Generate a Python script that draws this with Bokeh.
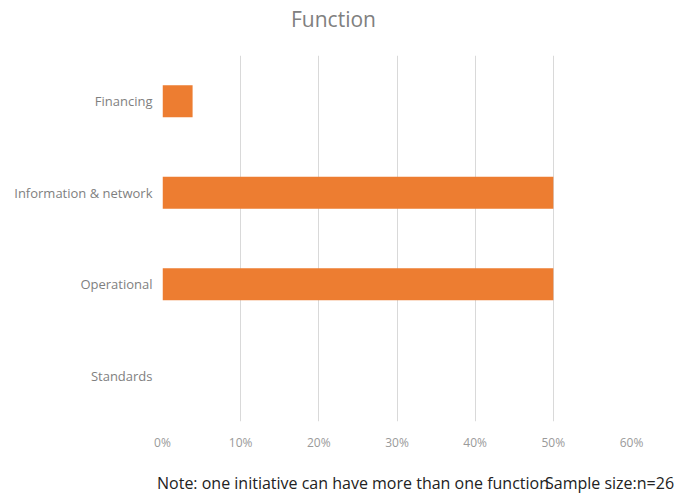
from bokeh.plotting import figure
from bokeh.models import NumeralTickFormatter, Range1d, FixedTicker, Div
from bokeh.layouts import column
from bokeh.embed import file_html
from bokeh.resources import INLINE

categories = ["Standards", "Operational", "Information & network", "Financing"]
shares = [0.0, 0.50, 0.50, 0.0385]
x_ticks = [0.0, 0.1, 0.2, 0.3, 0.4, 0.5, 0.6]
title_text = "Function"
note_text = "Note: one initiative can have more than one function"
sample_text = "Sample size:n=26"

FONT = "Open Sans"

title_html = (
    '<div style="position:relative;width:685px;height:45px;font-family:\'Open Sans\';'
    'font-size:21px;color:#808080;white-space:nowrap">'
    f'<span style="position:absolute;left:291px;top:5px;line-height:29px">{title_text}</span>'
    '</div>'
)
title_div = Div(text=title_html, width=685, height=45, margin=0)

p = figure(width=685, height=408, y_range=categories, x_range=Range1d(0, 0.6),
           output_backend="svg", toolbar_location=None,
           min_border_left=162, min_border_right=54, min_border_top=10, min_border_bottom=20)
p.title = None
p.hbar(y=categories, right=shares, height=0.35, fill_color="#ED7D31", line_color=None)

p.outline_line_color = None
p.xaxis.ticker = FixedTicker(ticks=x_ticks)
p.xaxis.formatter = NumeralTickFormatter(format="0%")
for ax in (p.xaxis, p.yaxis):
    ax.axis_line_color = None
    ax.major_tick_line_color = None
    ax.minor_tick_line_color = None
    ax.major_label_text_font = FONT
    ax.major_label_text_color = "#9a9a9a"
    ax.major_label_text_font_size = "12px"
p.yaxis.major_label_text_color = "#7f7f7f"
p.yaxis.major_label_text_font_size = "13px"
p.yaxis.major_label_standoff = 4
p.xaxis.major_label_standoff = 6
p.ygrid.grid_line_color = None
p.xgrid.grid_line_color = "#d9d9d9"
p.xgrid.ticker = FixedTicker(ticks=x_ticks)

note_html = (
    '<div style="position:relative;width:685px;height:40px;font-family:\'Open Sans\';'
    'font-size:16px;color:#222222;white-space:nowrap">'
    f'<span style="position:absolute;left:157px;top:22px;line-height:16px">{note_text}</span>'
    f'<span style="position:absolute;left:545px;top:22px;line-height:16px">{sample_text}</span>'
    '</div>'
)
note = Div(text=note_html, width=685, height=40, margin=0)

layout = column(title_div, p, note, spacing=0)
open("out.html", "w").write(file_html(layout, INLINE))
